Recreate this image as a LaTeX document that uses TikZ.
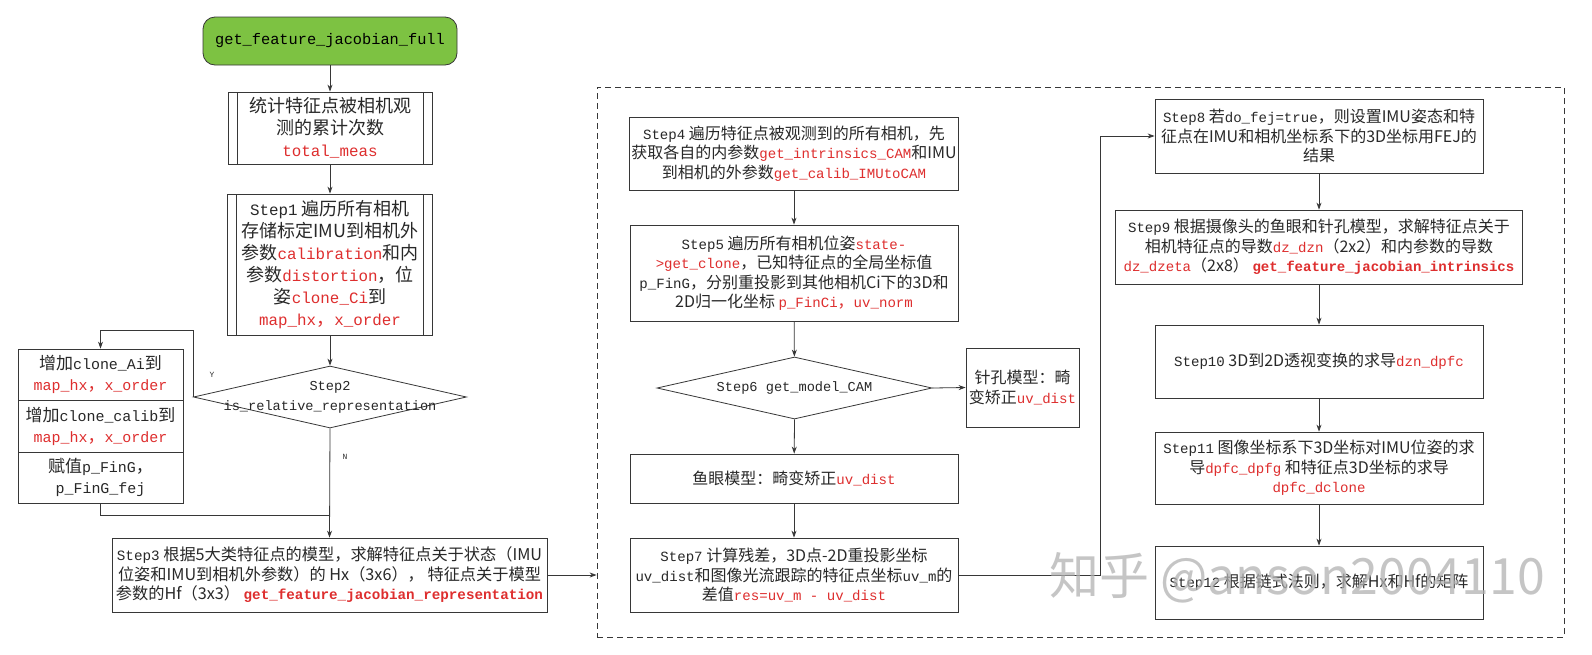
\documentclass[tikz,border=0pt]{standalone}
\usepackage{fontspec}
\setmainfont{Noto Sans CJK SC}
\setmonofont[Scale=0.88]{Liberation Mono}
\usetikzlibrary{shapes.geometric,arrows.meta}
\definecolor{rd}{RGB}{222,46,46}
\definecolor{tc}{RGB}{40,40,40}
\definecolor{lc}{RGB}{55,55,55}
\definecolor{gr}{RGB}{125,194,66}
\newcommand\rc[1]{\textcolor{rd}{\texttt{#1}}}
\newcommand\rcb[1]{\textcolor{rd}{\ttfamily\bfseries #1}}
\newcommand\mt[1]{\texttt{#1}}
\newcommand\rcm{\textcolor{rd}{，}}
\newcommand\fL{\fontsize{18}{22}\selectfont}
\newcommand\fM{\fontsize{16}{19.5}\selectfont}
\newcommand\fS{\fontsize{17}{21}\selectfont}
\begin{document}
\begin{tikzpicture}[x=1pt,y=-1pt,
 box/.style={draw=lc,line width=0.8pt,inner sep=0pt,align=center,text=tc,font=\fM},
 pproc/.style={box,font=\fL,path picture={\draw[lc,line width=0.8pt] ([xshift=9pt]path picture bounding box.north west) -- ([xshift=9pt]path picture bounding box.south west) ([xshift=-9pt]path picture bounding box.north east) -- ([xshift=-9pt]path picture bounding box.south east);}},
 dia/.style={draw=lc,line width=0.8pt,diamond,inner sep=0pt},
 arr/.style={draw=lc,line width=0.8pt,-{Stealth[length=7pt,width=5pt]}},
 ln/.style={draw=lc,line width=0.8pt},
 lab/.style={text=tc,inner sep=0pt,align=center}]
\fill[white] (0,0) rectangle (1592,654);
\useasboundingbox (0,0) rectangle (1592,654);

% dashed group
\node[draw=lc,line width=0.8pt,dash pattern=on 6pt off 4pt,minimum width=967pt,minimum height=550pt,inner sep=0pt] (grp) at (1080.5,362) {};

% left column
\node[box,fill=gr,rounded corners=12pt,minimum width=254pt,minimum height=48pt,font=\fontsize{17.4}{22}\selectfont\ttfamily,text=black] (start) at (330,41) {get\_feature\_jacobian\_full};
\node[pproc,minimum width=204pt,minimum height=72pt] (b1) at (330,128) {统计特征点被相机观\\测的累计次数\\\rc{total\_meas}};
\node[pproc,minimum width=205pt,minimum height=141pt] (s1) at (330,264.5) {\mt{Step1} 遍历所有相机\\存储标定IMU到相机外\\参数\rc{calibration}和内\\参数\rc{distortion}，位\\姿\rc{clone\_Ci}到\\\rc{map\_hx}\rcm\rc{x\_order}};
\node[dia,minimum width=273pt,minimum height=62pt] (d2) at (330,397) {};
\node[lab,font=\fontsize{15.5}{20}\selectfont\ttfamily] (d2t) at (d2) {Step2\\is\_relative\_representation};
\node[lab,font=\fontsize{9}{9}\selectfont\ttfamily] (ylab) at (212,375) {Y};
\node[lab,font=\fontsize{9}{9}\selectfont\ttfamily] (nlab) at (345,457) {N};

\node[box,font=\fS,minimum width=165pt,minimum height=51pt] (sa) at (100.5,374.5) {增加\mt{clone\_Ai}到\\\rc{map\_hx}\rcm\rc{x\_order}};
\node[box,font=\fS,minimum width=165pt,minimum height=52pt] (sb) at (100.5,426) {增加\mt{clone\_calib}到\\\rc{map\_hx}\rcm\rc{x\_order}};
\node[box,font=\fS,minimum width=165pt,minimum height=51pt] (sc) at (100.5,477.5) {赋值\mt{p\_FinG}，\\\mt{p\_FinG\_fej}};

\node[box,font=\fontsize{16.2}{19.5}\selectfont,minimum width=435pt,minimum height=74pt] (s3) at (329.5,575) {\mt{Step3} 根据5大类特征点的模型，求解特征点关于状态（IMU\\位姿和IMU到相机外参数）的 Hx（3x6）， 特征点关于模型\\参数的Hf（3x3） \rcb{get\_feature\_jacobian\_representation}};

% middle column
\node[box,minimum width=329pt,minimum height=73pt] (s4) at (794,153.5) {\mt{Step4} 遍历特征点被观测到的所有相机，先\\获取各自的内参数\rc{get\_intrinsics\_CAM}和IMU\\到相机的外参数\rc{get\_calib\_IMUtoCAM}};
\node[box,minimum width=328pt,minimum height=96pt] (s5) at (794,273) {\mt{Step5} 遍历所有相机位姿\rc{state-}\\\rc{>get\_clone}，已知特征点的全局坐标值\\\mt{p\_FinG}，分别重投影到其他相机Ci下的3D和\\2D归一化坐标 \rc{p\_FinCi}\rcm\rc{uv\_norm}};
\node[dia,minimum width=275pt,minimum height=62pt] (d6) at (794.5,388) {};
\node[lab,font=\fontsize{15.5}{20}\selectfont\ttfamily] (d6t) at (d6) {Step6 get\_model\_CAM};
\node[box,minimum width=113pt,minimum height=79pt] (ph) at (1022.5,387.5) {针孔模型：畸\\变矫正\rc{uv\_dist}};
\node[box,minimum width=328pt,minimum height=49pt] (fe) at (794,478.5) {鱼眼模型：畸变矫正\rc{uv\_dist}};
\node[box,minimum width=328pt,minimum height=74pt] (s7) at (794,575) {\mt{Step7} 计算残差，3D点-2D重投影坐标\\\mt{uv\_dist}和图像光流跟踪的特征点坐标\mt{uv\_m}的\\差值\rc{res=uv\_m - uv\_dist}};

% right column
\node[box,minimum width=328pt,minimum height=74pt] (s8) at (1319,136) {\mt{Step8} 若\mt{do\_fej=true}，则设置IMU姿态和特\\征点在IMU和相机坐标系下的3D坐标用FEJ的\\结果};
\node[box,minimum width=407pt,minimum height=74pt] (s9) at (1319,247) {\mt{Step9} 根据摄像头的鱼眼和针孔模型，求解特征点关于\\相机特征点的导数\rc{dz\_dzn}（2x2）和内参数的导数\\\rc{dz\_dzeta}（2x8） \rcb{get\_feature\_jacobian\_intrinsics}};
\node[box,minimum width=328pt,minimum height=73pt] (s10) at (1319,361.5) {\mt{Step10} 3D到2D透视变换的求导\rc{dzn\_dpfc}};
\node[box,minimum width=328pt,minimum height=72pt] (s11) at (1319,468) {\mt{Step11} 图像坐标系下3D坐标对IMU位姿的求\\导\rc{dpfc\_dpfg} 和特征点3D坐标的求导\\\rc{dpfc\_dclone}};
\node[box,minimum width=328pt,minimum height=73pt] (s12) at (1319,582.5) {\mt{Step12} 根据链式法则，求解Hx和Hf的矩阵};

% connectors
\coordinate (jn) at (329.5,515);
\coordinate (xl) at (1100,0);
\draw[arr] (start) -- (b1);
\draw[arr] (b1) -- (s1);
\draw[arr] (s1) -- (d2);
\draw[arr] (d2.west) -- ++(0,-67) -| (sa.north);
\draw[arr] (d2.south) -- (s3.north);
\draw[ln] (sc.south) |- (jn);
\draw[arr] (s3.east) -- (s3.east -| grp.west);
\draw[arr] (s4) -- (s5);
\draw[arr] (s5) -- (d6);
\draw[arr] (d6.east) -- (ph.west);
\draw[arr] (d6.south) -- (fe);
\draw[arr] (fe) -- (s7);
\draw[arr] (s7.east) -- (s7.east -| xl) |- (s8.west);
\draw[arr] (s8) -- (s9);
\draw[arr] (s9) -- (s10);
\draw[arr] (s10) -- (s11);
\draw[arr] (s11) -- (s12);

% watermark
\node[text=gray!60,opacity=0.75,inner sep=0pt,font=\fontsize{50}{50}\selectfont] (wm) at (1297,578) {知乎 @anson2004110};
\end{tikzpicture}
\end{document}
